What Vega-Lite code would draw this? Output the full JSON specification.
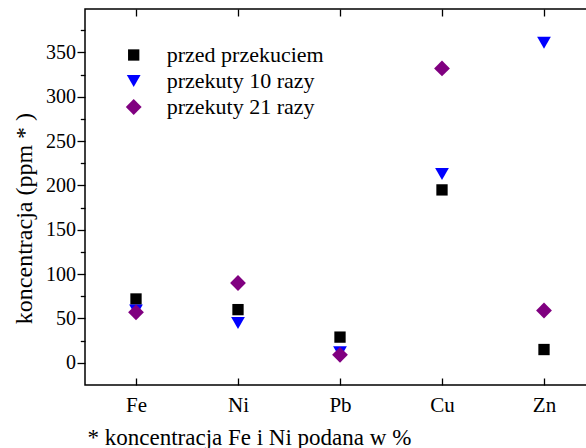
{
  "$schema": "https://vega.github.io/schema/vega-lite/v6.json",
  "autosize": "none",
  "width": 506,
  "height": 376,
  "padding": {"left": 85, "top": 9, "right": 0, "bottom": 63},
  "background": "white",
  "config": {
    "view": {"stroke": "#000", "strokeWidth": 1.5},
    "font": "Liberation Serif",
    "axis": {"labelFont": "Liberation Serif", "titleFont": "Liberation Serif", "labelColor": "#000", "titleColor": "#000", "tickColor": "#000", "domainColor": "#000", "grid": false, "titleFontWeight": "normal"}
  },
  "data": {"values": [
    {"el": "Fe", "series": "przed przekuciem", "v": 72},
    {"el": "Ni", "series": "przed przekuciem", "v": 60},
    {"el": "Pb", "series": "przed przekuciem", "v": 29},
    {"el": "Cu", "series": "przed przekuciem", "v": 195},
    {"el": "Zn", "series": "przed przekuciem", "v": 15},
    {"el": "Fe", "series": "przekuty 10 razy", "v": 59},
    {"el": "Ni", "series": "przekuty 10 razy", "v": 45},
    {"el": "Pb", "series": "przekuty 10 razy", "v": 12},
    {"el": "Cu", "series": "przekuty 10 razy", "v": 213},
    {"el": "Zn", "series": "przekuty 10 razy", "v": 361},
    {"el": "Fe", "series": "przekuty 21 razy", "v": 57},
    {"el": "Ni", "series": "przekuty 21 razy", "v": 90},
    {"el": "Pb", "series": "przekuty 21 razy", "v": 9},
    {"el": "Cu", "series": "przekuty 21 razy", "v": 332},
    {"el": "Zn", "series": "przekuty 21 razy", "v": 59}
  ]},
  "layer": [
    {
      "mark": {"type": "point", "filled": true, "opacity": 1, "strokeWidth": 0},
      "encoding": {
        "x": {"field": "el", "type": "nominal", "sort": ["Fe", "Ni", "Pb", "Cu", "Zn"],
          "scale": {"type": "point", "range": [51, 459], "padding": 0},
          "axis": {"orient": "bottom", "offset": -7, "tickSize": 7, "tickWidth": 1.3, "labelFontSize": 21, "labelAngle": 0, "labelPadding": 9, "domain": false,
            "title": "* koncentracja Fe i Ni podana w %", "titleFontSize": 23, "titleAnchor": "start", "titleX": 2, "titleY": 66, "titleBaseline": "alphabetic"}},
        "y": {"field": "v", "type": "quantitative",
          "scale": {"domain": [-25, 399], "nice": false, "zero": false},
          "axis": {"orient": "left", "values": [0, 50, 100, 150, 200, 250, 300, 350],
            "tickSize": 8, "tickWidth": 1.3, "labelFontSize": 20, "labelPadding": 1.5, "domain": false,
            "title": "koncentracja (ppm * )", "titleFontSize": 24, "titleX": -53.5, "titleY": 209, "titleBaseline": "alphabetic", "titleAngle": -90}},
        "color": {"field": "series", "type": "nominal",
          "scale": {"domain": ["przed przekuciem", "przekuty 10 razy", "przekuty 21 razy"], "range": ["#000000", "#0000ff", "#800080"]},
          "legend": {"orient": "none", "legendX": 37.7, "legendY": 35, "title": null, "labelFont": "Liberation Serif", "labelFontSize": 22, "labelColor": "#000", "labelOffset": 22, "rowPadding": 4, "symbolStrokeWidth": 0, "labelLimit": 0}},
        "shape": {"field": "series", "type": "nominal",
          "scale": {"domain": ["przed przekuciem", "przekuty 10 razy", "przekuty 21 razy"], "range": ["square", "triangle-down", "diamond"]}},
        "size": {"field": "series", "type": "nominal",
          "scale": {"domain": ["przed przekuciem", "przekuty 10 razy", "przekuty 21 razy"], "range": [128, 250, 256]}}
      }
    },
    {
      "mark": {"type": "point", "opacity": 0},
      "encoding": {
        "x": {"field": "el", "type": "nominal", "sort": ["Fe", "Ni", "Pb", "Cu", "Zn"],
          "scale": {"type": "point", "range": [51, 459], "padding": 0},
          "axis": {"orient": "top", "offset": -7, "tickSize": 7, "tickWidth": 1.3, "labels": false, "domain": false, "title": null}},
        "y": {"field": "v", "type": "quantitative",
          "axis": {"orient": "left", "values": [25, 75, 125, 175, 225, 275, 325, 375], "tickSize": 4.7, "tickWidth": 1.3, "labels": false, "domain": false, "title": null}}
      }
    }
  ],
  "resolve": {"axis": {"x": "independent", "y": "independent"}}
}
